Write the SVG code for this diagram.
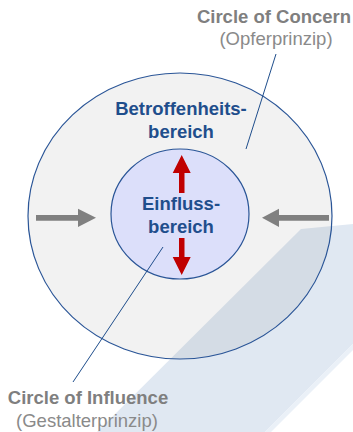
<svg xmlns="http://www.w3.org/2000/svg" width="353" height="432" viewBox="0 0 353 432">
<style>
.t{font-family:"Liberation Sans",Arial,sans-serif;font-size:18.5px;text-anchor:middle}
.b{font-weight:bold}
.gray{fill:#7f7f7f}
.sub{fill:#8a8a8a}
.blue{fill:#1f4e8c}
.lead{stroke:#1f4e8c;stroke-width:1;fill:none}
.ring{stroke:#2a5597;stroke-width:1.2}
.red{fill:#c00000}
.gar{fill:#808080}
</style>
<rect width="353" height="432" fill="#ffffff"/>
<g id="band">
<polygon points="97,432 301,229 353,224 353,344 265,432" fill="#e0e8f2"/>
<polygon points="265,432 353,344 353,350 271,432" fill="#eaf0f7"/>
</g>
<g id="concern">
<ellipse cx="180" cy="216" rx="152" ry="143" fill="#000000" fill-opacity="0.052"/>
<ellipse cx="180" cy="216" rx="152" ry="143" fill="none" class="ring"/>
<text class="t b blue" x="181" y="115">Betroffenheits-</text>
<text class="t b blue" x="181" y="137.5">bereich</text>
</g>
<g id="influence">
<ellipse cx="180" cy="214" rx="69" ry="65" fill="#dcdffa" class="ring"/>
<text class="t b blue" x="181" y="210">Einfluss-</text>
<text class="t b blue" x="181" y="232.5">bereich</text>
</g>
<g id="red-arrows">
<polygon class="red" points="181.7,155 190.7,173 184.5,173 184.5,193 179,193 179,173 172.7,173"/>
<polygon class="red" points="181.7,275 190.7,257 184.5,257 184.5,238 179,238 179,257 172.7,257"/>
</g>
<g id="gray-arrows">
<polygon class="gar" points="96,217.8 78,208.7 78,215 36,215 36,220.7 78,220.7 78,227"/>
<polygon class="gar" points="262,217.8 279,208.7 279,215 329,215 329,220.7 279,220.7 279,227"/>
</g>
<g id="connectors">
<line class="lead" x1="276" y1="54" x2="246" y2="149"/>
<line class="lead" x1="163" y1="247" x2="73" y2="382"/>
</g>
<g id="label-concern">
<text class="t b gray" x="274" y="22.7">Circle of Concern</text>
<text class="t sub" x="276" y="45">(Opferprinzip)</text>
</g>
<g id="label-influence">
<text class="t b gray" x="88" y="404">Circle of Influence</text>
<text class="t sub" x="87" y="426.5">(Gestalterprinzip)</text>
</g>
</svg>
